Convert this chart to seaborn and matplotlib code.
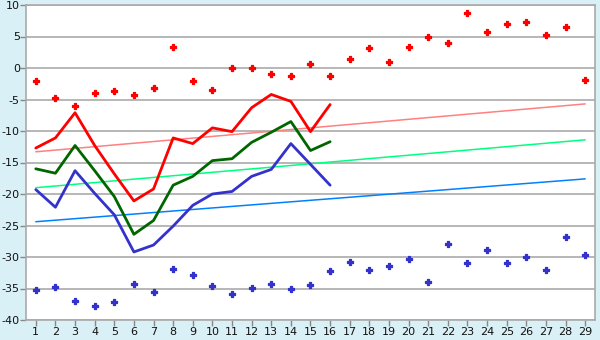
import matplotlib
matplotlib.use("Agg")
import matplotlib.pyplot as plt
import seaborn as sns
import pandas as pd

days = list(range(1, 30))
red_pts = [-2.1, -4.8, -6.0, -4.0, -3.7, -4.3, -3.2, 3.3, -2.1, -3.5, 0.0, 0.0, -1.0, -1.3,
           0.6, -1.3, 1.4, 3.2, 0.9, 3.3, 4.9, 4.0, 8.7, 5.7, 7.0, 7.3, 5.2, 6.5, -1.9]
blue_pts = [-35.2, -34.8, -37.0, -37.8, -37.1, -34.3, -35.6, -31.9, -32.9, -34.6, -35.9, -34.9,
            -34.3, -35.1, -34.4, -32.2, -30.8, -32.1, -31.4, -30.3, -34.0, -27.9, -31.0, -28.9,
            -31.0, -30.0, -32.1, -26.8, -29.7]
line_days = list(range(1, 17))
red_line = [-12.7, -11.1, -7.1, -12.3, -16.8, -21.1, -19.2, -11.1, -12.0, -9.5, -10.1, -6.3,
            -4.2, -5.3, -10.1, -5.8]
green_line = [-16.0, -16.7, -12.3, -16.3, -20.4, -26.4, -24.2, -18.6, -17.2, -14.7, -14.4, -11.8,
              -10.2, -8.5, -13.1, -11.7]
blue_line = [-19.3, -22.1, -16.3, -19.9, -23.3, -29.2, -28.1, -25.1, -21.8, -20.0, -19.6, -17.2,
             -16.1, -12.0, -15.3, -18.6]
trend_days = [1, 29]
red_trend = [-13.3, -5.7]
green_trend = [-19.0, -11.4]
blue_trend = [-24.4, -17.6]
y_ticks = [10, 5, 0, -5, -10, -15, -20, -25, -30, -35, -40]

bg = "#DAF0F7"
sns.set_theme(style="white")
plt.rcParams['font.family'] = ['DejaVu Sans']
fig = plt.figure(figsize=(6, 3.4), dpi=100, facecolor=bg)
ax = fig.add_axes([26/600, 1-320/340, (595-26)/600, 315/340])
ax.set_facecolor("white")

for yv in y_ticks:
    ax.axhline(yv, color="#AAAAAA", lw=1.2, zorder=0)

sns.lineplot(x=trend_days, y=red_trend, ax=ax, color="#FF8080", lw=1.1)
sns.lineplot(x=trend_days, y=green_trend, ax=ax, color="#00FF80", lw=1.1)
sns.lineplot(x=trend_days, y=blue_trend, ax=ax, color="#0080FF", lw=1.1)

sns.lineplot(x=line_days, y=red_line, ax=ax, color="#FF0000", lw=2)
sns.lineplot(x=line_days, y=green_line, ax=ax, color="#006600", lw=2)
sns.lineplot(x=line_days, y=blue_line, ax=ax, color="#3333CC", lw=2)

sns.scatterplot(x=days, y=red_pts, ax=ax, color="#FF0000", marker="P", s=20,
                linewidth=0.9, edgecolor="#FF0000", zorder=5)
sns.scatterplot(x=days, y=blue_pts, ax=ax, color="#3333CC", marker="P", s=20,
                linewidth=0.9, edgecolor="#3333CC", zorder=5)

ax.set_xlim(0.5, 29.5)
ax.set_ylim(-40, 10)
ax.set_xticks(days)
ax.set_yticks(y_ticks)
ax.set_xticklabels([str(d) for d in days])
ax.set_yticklabels([str(v) for v in y_ticks])
ax.tick_params(axis="both", which="both", direction="out", length=4, width=1,
               color="#888888", labelsize=8, labelcolor="#111111", pad=1)
ax.tick_params(axis="x", bottom=True)
ax.tick_params(axis="y", left=True, pad=0.5)
for sp in ax.spines.values():
    sp.set_color("#AAAAAA")
    sp.set_linewidth(1.2)

fig.savefig("out.png", dpi=100, facecolor=bg)
